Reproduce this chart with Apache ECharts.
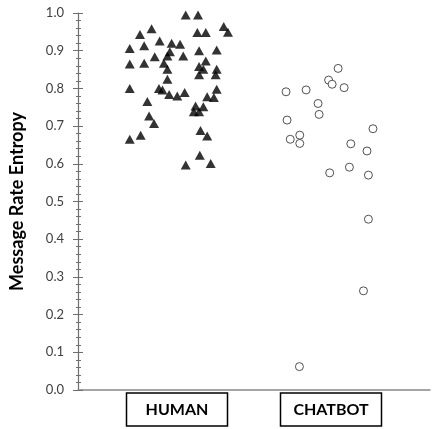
<!DOCTYPE html>
<html>
<head>
<meta charset="utf-8">
<script src="https://cdn.jsdelivr.net/npm/echarts@6/dist/echarts.min.js"></script>
<style>
  html, body { margin: 0; padding: 0; background: #fff; }
  #chart { width: 432px; height: 429px; }
</style>
</head>
<body>
<div id="chart"></div>
<script>
// groups shown under the axis
const categories = ['HUMAN', 'CHATBOT']

// jitter position (0-100 along x) and entropy value for each point
const humanX = [30.6, 34.1, 20.9, 17.6, 33.9, 36.3, 41.4, 42.6, 14.7, 18.8,
  23.2, 26.6, 29.0, 26.1, 34.4, 39.4, 21.8, 25.4, 29.9, 14.7,
  18.8, 24.4, 25.4, 36.3, 34.4, 35.6, 34.4, 39.4, 39.1, 25.4,
  14.7, 23.0, 24.0, 25.9, 28.2, 30.3, 39.4, 36.7, 38.6, 19.7,
  33.4, 35.6, 32.9, 34.4, 20.2, 21.6, 34.8, 36.7, 17.8, 14.7,
  34.6, 30.6, 37.7]
const humanY = [0.995, 0.995, 0.958, 0.943, 0.948, 0.948, 0.964, 0.949, 0.906, 0.913,
  0.926, 0.920, 0.917, 0.897, 0.900, 0.902, 0.884, 0.886, 0.886, 0.865,
  0.867, 0.867, 0.851, 0.873, 0.858, 0.851, 0.836, 0.851, 0.836, 0.824,
  0.800, 0.800, 0.796, 0.784, 0.780, 0.789, 0.798, 0.778, 0.776, 0.765,
  0.753, 0.751, 0.738, 0.738, 0.727, 0.707, 0.688, 0.674, 0.676, 0.665,
  0.623, 0.597, 0.601]

const chatbotX = [73.9, 71.2, 72.2, 75.6, 59.1, 64.8, 68.2, 68.5, 59.4, 63.0,
  60.3, 63.0, 83.8, 77.5, 82.1, 77.1, 71.5, 82.5, 82.5, 81.1, 62.9]
const chatbotY = [0.853, 0.822, 0.811, 0.802, 0.791, 0.796, 0.760, 0.731, 0.716, 0.676,
  0.665, 0.654, 0.693, 0.653, 0.634, 0.591, 0.576, 0.570, 0.453, 0.263, 0.062]

const zip = (xs, ys) => xs.map((x, i) => [x, ys[i]])

const axisColor = '#6e6e6e'
const chart = echarts.init(document.getElementById('chart'), null, { renderer: 'canvas' })

chart.setOption({
  animation: false,
  grid: [
    { left: 77, right: 2, top: 13, bottom: 39 },
    { left: 100, right: 24, top: 13, bottom: 39 }
  ],
  xAxis: [
    {
      type: 'value', gridIndex: 0, min: 0, max: 100,
      axisLine: { show: true, lineStyle: { color: '#888', width: 1.5 } },
      axisTick: { show: false }, axisLabel: { show: false }, splitLine: { show: false }
    },
    {
      type: 'category', gridIndex: 1, data: categories,
      axisLine: { show: false }, axisTick: { show: false }, splitLine: { show: false },
      axisLabel: {
        margin: 3,
        fontFamily: 'Lato', fontWeight: 'bold', fontSize: 16, color: '#000',
        width: 101, align: 'center', lineHeight: 18,
        padding: [8, 0, 7, 0],
        borderColor: '#000', borderWidth: 1.5
      }
    }
  ],
  yAxis: [
    {
      type: 'value', gridIndex: 0, min: 0, max: 1, interval: 0.1,
      name: 'Message Rate Entropy', nameLocation: 'middle', nameGap: 52,
      nameTextStyle: { fontFamily: 'Lato', fontWeight: 'bold', fontSize: 18, color: '#000' },
      axisLine: { show: true, lineStyle: { color: axisColor, width: 1.2 } },
      axisTick: { show: true, length: 5, lineStyle: { color: axisColor } },
      minorTick: { show: true, splitNumber: 5, length: 2, lineStyle: { color: axisColor } },
      axisLabel: {
        margin: 14, fontFamily: 'Lato', fontSize: 13, color: '#404040',
        formatter: v => v.toFixed(1)
      },
      splitLine: { show: false }
    },
    {
      // same scale again, ticks on the inner side so they cross the axis
      type: 'value', gridIndex: 0, min: 0, max: 1, interval: 0.1, position: 'left',
      axisLine: { show: false },
      axisTick: { show: true, inside: true, length: 5, lineStyle: { color: axisColor } },
      minorTick: { show: true, splitNumber: 5, length: 3, lineStyle: { color: axisColor } },
      axisLabel: { show: false }, splitLine: { show: false }
    },
    { type: 'value', gridIndex: 1, show: false }
  ],
  series: [
    {
      name: 'HUMAN', type: 'scatter', xAxisIndex: 0, yAxisIndex: 0,
      symbol: 'triangle', symbolSize: [10, 9],
      itemStyle: { color: '#000' },
      data: zip(humanX, humanY)
    },
    {
      name: 'CHATBOT', type: 'scatter', xAxisIndex: 0, yAxisIndex: 0,
      symbol: 'circle', symbolSize: 8,
      itemStyle: { color: '#fff', borderColor: '#505050', borderWidth: 1, opacity: 1 },
      data: zip(chatbotX, chatbotY)
    }
  ]
})
</script>
</body>
</html>
